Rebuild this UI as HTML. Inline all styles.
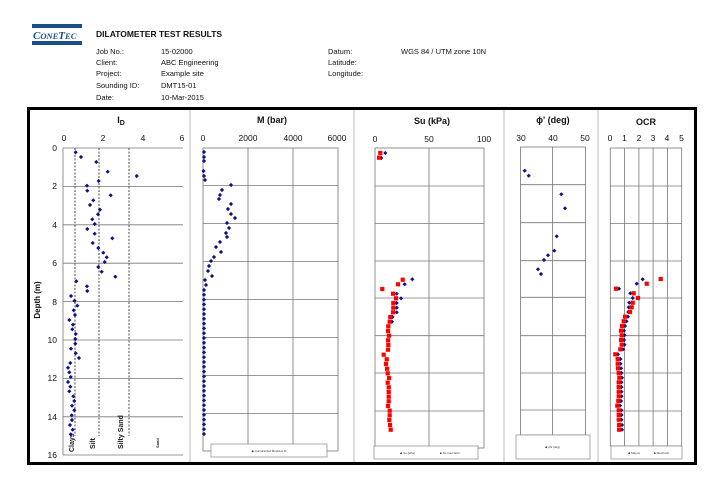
<!DOCTYPE html>
<html><head><meta charset="utf-8"><style>
body{margin:0;background:#fff;}
svg{display:block;font-family:"Liberation Sans",sans-serif;}
.h{font-size:7.5px;fill:#111;}
.t{font-size:8.5px;fill:#111;}
.g{stroke:#777;stroke-width:0.8;fill:none;}
.dash{stroke:#222;stroke-width:0.8;stroke-dasharray:2,1.5;}
</style></head><body>
<svg width="724" height="488" viewBox="0 0 724 488" xmlns="http://www.w3.org/2000/svg">
<defs>
<polygon id="d" points="0,-2.1 2.1,0 0,2.1 -2.1,0" fill="#10108a"/>
<rect id="s" x="-2.1" y="-2.1" width="4.2" height="4.2" fill="#f00"/>
</defs>
<!-- header -->
<rect x="32" y="24" width="50" height="4" fill="#1b4f8a"/>
<rect x="32" y="41" width="50" height="4" fill="#1b4f8a"/>
<text x="33" y="39" style="font-family:'Liberation Serif',serif;font-size:11px;font-style:italic;fill:#1b4f8a;font-weight:bold">C<tspan font-size="8.5">ONE</tspan>T<tspan font-size="8.5">EC</tspan></text>
<text x="96" y="37" style="font-size:8.5px;font-weight:bold;fill:#111">DILATOMETER TEST RESULTS</text>
<g class="h">
<text x="96" y="54">Job No.:</text><text x="161" y="54">15-02000</text>
<text x="96" y="65">Client:</text><text x="161" y="65">ABC Engineering</text>
<text x="96" y="76">Project:</text><text x="161" y="76">Example site</text>
<text x="96" y="88">Sounding ID:</text><text x="161" y="88">DMT15-01</text>
<text x="96" y="100">Date:</text><text x="161" y="100">10-Mar-2015</text>
<text x="328" y="54">Datum:</text><text x="401" y="54">WGS 84 / UTM zone 10N</text>
<text x="328" y="65">Latitude:</text>
<text x="328" y="76">Longitude:</text>
</g>
<!-- frame -->
<rect x="28.5" y="108.5" width="667" height="355" fill="none" stroke="#000" stroke-width="3"/>
<g stroke="#bbb" stroke-width="1">
<line x1="190" y1="110" x2="190" y2="462"/><line x1="354" y1="110" x2="354" y2="462"/>
<line x1="504" y1="110" x2="504" y2="462"/><line x1="598" y1="110" x2="598" y2="462"/>
</g>
<!-- titles -->
<g style="font-size:9px;font-weight:bold;fill:#111" text-anchor="middle">
<text x="121" y="123">I<tspan font-size="7" dy="2">D</tspan></text>
<text x="272" y="123">M (bar)</text>
<text x="432" y="124">Su (kPa)</text>
<text x="553" y="123">ϕ' (deg)</text>
<text x="646" y="125">OCR</text>
</g>
<!-- Ic panel -->
<g class="t" text-anchor="middle">
<text x="64" y="141">0</text><text x="103" y="141">2</text><text x="143" y="141">4</text><text x="182" y="141">6</text>
</g>
<g class="t" text-anchor="end">
<text x="57" y="151">0</text><text x="57" y="189">2</text><text x="57" y="228">4</text><text x="57" y="266">6</text><text x="57" y="305">8</text><text x="57" y="343">10</text><text x="57" y="381">12</text><text x="57" y="420">14</text><text x="57" y="458">16</text>
</g>
<text transform="translate(40,300) rotate(-90)" text-anchor="middle" style="font-size:8px;font-weight:bold;fill:#111">Depth (m)</text>
<g class="g">
<line x1="63" y1="148" x2="183" y2="148"/>
<line x1="63" y1="186.4" x2="183" y2="186.4"/><line x1="63" y1="224.8" x2="183" y2="224.8"/><line x1="63" y1="263.2" x2="183" y2="263.2"/><line x1="63" y1="301.6" x2="183" y2="301.6"/><line x1="63" y1="340" x2="183" y2="340"/><line x1="63" y1="378.4" x2="183" y2="378.4"/><line x1="63" y1="416.8" x2="183" y2="416.8"/><line x1="63" y1="455" x2="183" y2="455"/>
<line x1="63" y1="148" x2="63" y2="455"/>
</g>
<g class="dash"><line x1="75" y1="148" x2="75" y2="436"/><line x1="99" y1="148" x2="99" y2="436"/><line x1="129" y1="148" x2="129" y2="436"/></g>
<g transform="rotate(-90)" style="font-size:7px;font-weight:bold;fill:#222">
<text x="-452" y="74">Clays</text><text x="-449" y="95">Silt</text><text x="-449" y="123">Silty Sand</text><text x="-448" y="159" style="font-size:4px">Sand</text>
</g>
<g>
<use href="#d" x="75.7" y="152.3"/><use href="#d" x="81" y="157"/><use href="#d" x="96.3" y="162"/><use href="#d" x="107.7" y="171.7"/><use href="#d" x="136.7" y="176"/><use href="#d" x="98.7" y="181"/><use href="#d" x="87" y="185.7"/><use href="#d" x="87.3" y="190.7"/><use href="#d" x="110.7" y="195.3"/><use href="#d" x="93.3" y="200.3"/><use href="#d" x="90" y="205"/><use href="#d" x="100" y="209.7"/><use href="#d" x="98" y="214.3"/><use href="#d" x="92.3" y="219.3"/><use href="#d" x="94.7" y="224"/><use href="#d" x="87.3" y="229"/><use href="#d" x="94.7" y="233.7"/><use href="#d" x="112.3" y="238.3"/><use href="#d" x="92.7" y="243"/><use href="#d" x="98.3" y="248"/><use href="#d" x="103.3" y="252.7"/><use href="#d" x="106.7" y="257.3"/><use href="#d" x="104.7" y="262"/><use href="#d" x="98.3" y="267"/><use href="#d" x="101.7" y="271.7"/><use href="#d" x="115.3" y="276.7"/><use href="#d" x="76.3" y="281.3"/><use href="#d" x="87" y="286.3"/><use href="#d" x="87.3" y="291"/><use href="#d" x="71" y="296"/><use href="#d" x="74.5" y="300.8"/><use href="#d" x="77.3" y="305.7"/><use href="#d" x="73.7" y="310.3"/><use href="#d" x="75" y="315"/><use href="#d" x="69.3" y="320"/><use href="#d" x="73" y="324.7"/><use href="#d" x="72.3" y="329.3"/><use href="#d" x="75.7" y="334"/><use href="#d" x="75.3" y="339"/><use href="#d" x="75.3" y="343.7"/><use href="#d" x="71" y="348.7"/><use href="#d" x="75.7" y="353.3"/><use href="#d" x="79" y="358"/><use href="#d" x="70.3" y="363"/><use href="#d" x="68" y="367.7"/><use href="#d" x="69.3" y="372.3"/><use href="#d" x="70.7" y="377"/><use href="#d" x="68" y="382"/><use href="#d" x="70.3" y="386.7"/><use href="#d" x="69.3" y="391.3"/><use href="#d" x="73.3" y="396.3"/><use href="#d" x="74.3" y="401"/><use href="#d" x="72" y="405.7"/><use href="#d" x="74.3" y="410.3"/><use href="#d" x="71.7" y="415.3"/><use href="#d" x="72" y="420"/><use href="#d" x="70" y="425"/><use href="#d" x="72.7" y="429.7"/><use href="#d" x="70.7" y="434.3"/>
</g>
<!-- M panel -->
<g class="t" text-anchor="middle">
<text x="203" y="141">0</text><text x="248" y="141">2000</text><text x="293" y="141">4000</text><text x="337" y="141">6000</text>
</g>
<g class="g">
<rect x="203" y="148" width="135" height="303"/>
<line x1="248" y1="148" x2="248" y2="451"/><line x1="293" y1="148" x2="293" y2="451"/>
<line x1="203" y1="185.5" x2="338" y2="185.5"/><line x1="203" y1="223.5" x2="338" y2="223.5"/><line x1="203" y1="261.5" x2="338" y2="261.5"/><line x1="203" y1="299.5" x2="338" y2="299.5"/><line x1="203" y1="337.5" x2="338" y2="337.5"/><line x1="203" y1="375.5" x2="338" y2="375.5"/><line x1="203" y1="413.5" x2="338" y2="413.5"/>
</g>
<rect x="211" y="444" width="116" height="13" fill="#fff" stroke="#888" stroke-width="0.7"/>
<text x="269" y="452" text-anchor="middle" style="font-size:3px;fill:#333">◆ Constrained Modulus M</text>
<g>
<use href="#d" x="204" y="152"/><use href="#d" x="204" y="157"/><use href="#d" x="204" y="161"/><use href="#d" x="203.5" y="171"/><use href="#d" x="204" y="176"/><use href="#d" x="205" y="180"/><use href="#d" x="231" y="185"/><use href="#d" x="222" y="190"/><use href="#d" x="220" y="195"/><use href="#d" x="219" y="199"/><use href="#d" x="231" y="204"/><use href="#d" x="228" y="209"/><use href="#d" x="231" y="214"/><use href="#d" x="235" y="218"/><use href="#d" x="227" y="223"/><use href="#d" x="229" y="228"/><use href="#d" x="226" y="233"/><use href="#d" x="227" y="237"/><use href="#d" x="220" y="242"/><use href="#d" x="216" y="247"/><use href="#d" x="221" y="252"/><use href="#d" x="214" y="257"/><use href="#d" x="211" y="261"/><use href="#d" x="209" y="266"/><use href="#d" x="208" y="271"/><use href="#d" x="212" y="276"/><use href="#d" x="205" y="280"/><use href="#d" x="206" y="285"/>
<use href="#d" x="204" y="290"/><use href="#d" x="204" y="294.8"/><use href="#d" x="204" y="299.6"/><use href="#d" x="204" y="304.4"/><use href="#d" x="204" y="309.2"/><use href="#d" x="204" y="314"/><use href="#d" x="204" y="318.8"/><use href="#d" x="204" y="323.6"/><use href="#d" x="204" y="328.4"/><use href="#d" x="204" y="333.2"/><use href="#d" x="204" y="338"/><use href="#d" x="204" y="342.8"/><use href="#d" x="204" y="347.6"/><use href="#d" x="204" y="352.4"/><use href="#d" x="204" y="357.2"/><use href="#d" x="204" y="362"/><use href="#d" x="204" y="366.8"/><use href="#d" x="204" y="371.6"/><use href="#d" x="204" y="376.4"/><use href="#d" x="204" y="381.2"/><use href="#d" x="204" y="386"/><use href="#d" x="204" y="390.8"/><use href="#d" x="204" y="395.6"/><use href="#d" x="204" y="400.4"/><use href="#d" x="204" y="405.2"/><use href="#d" x="204" y="410"/><use href="#d" x="204" y="414.8"/><use href="#d" x="204" y="419.6"/><use href="#d" x="204" y="424.4"/><use href="#d" x="204" y="429.2"/><use href="#d" x="204" y="434"/>
</g>
<!-- Su panel -->
<g class="t" text-anchor="middle">
<text x="375" y="142">0</text><text x="429" y="142">50</text><text x="484" y="142">100</text>
</g>
<g class="g">
<rect x="375" y="148" width="109" height="300"/>
<line x1="429" y1="148" x2="429" y2="448"/>
<line x1="375" y1="186" x2="484" y2="186"/><line x1="375" y1="223.5" x2="484" y2="223.5"/><line x1="375" y1="261" x2="484" y2="261"/><line x1="375" y1="298" x2="484" y2="298"/><line x1="375" y1="335.7" x2="484" y2="335.7"/><line x1="375" y1="373" x2="484" y2="373"/><line x1="375" y1="411" x2="484" y2="411"/>
</g>
<rect x="374" y="446" width="104" height="13" fill="#fff" stroke="#888" stroke-width="0.7"/>
<text x="400" y="454" style="font-size:3px;fill:#333">◆ Su (kPa)</text><text x="440" y="454" style="font-size:3px;fill:#333">■ Su marchetti</text>
<g>
<use href="#d" x="385.3" y="153"/><use href="#d" x="381.3" y="158"/>
<use href="#d" x="412.3" y="279.3"/><use href="#d" x="404.7" y="284.3"/><use href="#d" x="396.7" y="293.7"/><use href="#d" x="401" y="298.3"/><use href="#d" x="396.7" y="303"/><use href="#d" x="396.7" y="307.7"/><use href="#d" x="396.7" y="312.3"/><use href="#d" x="392.5" y="317"/><use href="#d" x="392" y="321.7"/>
<use href="#s" x="380.3" y="153"/><use href="#s" x="379" y="157.7"/>
<use href="#s" x="402.7" y="279.7"/><use href="#s" x="398" y="284.3"/><use href="#s" x="382.3" y="289"/><use href="#s" x="393" y="293.7"/><use href="#s" x="396" y="298.3"/><use href="#s" x="393.3" y="303"/><use href="#s" x="393.3" y="307.7"/><use href="#s" x="393" y="312.3"/><use href="#s" x="390.3" y="317"/><use href="#s" x="389.7" y="321.7"/><use href="#s" x="388.3" y="326.3"/><use href="#s" x="388" y="331"/><use href="#s" x="389" y="335.7"/><use href="#s" x="388" y="340.3"/><use href="#s" x="388.3" y="345"/><use href="#s" x="388" y="349.7"/><use href="#s" x="383.7" y="354.7"/><use href="#s" x="386.7" y="359.3"/><use href="#s" x="386" y="364"/><use href="#s" x="387" y="368.7"/><use href="#s" x="387.7" y="373.3"/><use href="#s" x="389" y="378"/><use href="#s" x="387.7" y="382.7"/><use href="#s" x="388.7" y="387.3"/><use href="#s" x="388.7" y="392"/><use href="#s" x="388.7" y="396.7"/><use href="#s" x="388.7" y="401.3"/><use href="#s" x="388" y="406"/><use href="#s" x="389.7" y="410.7"/><use href="#s" x="389.7" y="415.3"/><use href="#s" x="389.3" y="420"/><use href="#s" x="390" y="425"/><use href="#s" x="390.7" y="429.7"/>
</g>
<!-- phi panel -->
<g class="t" text-anchor="middle">
<text x="521" y="141">30</text><text x="553" y="141">40</text><text x="585" y="141">50</text>
</g>
<g class="g">
<rect x="520.5" y="147" width="65" height="288"/>
<line x1="552.5" y1="147" x2="552.5" y2="435"/>
<line x1="520.5" y1="184.7" x2="585.5" y2="184.7"/><line x1="520.5" y1="222.7" x2="585.5" y2="222.7"/><line x1="520.5" y1="260.7" x2="585.5" y2="260.7"/><line x1="520.5" y1="297.3" x2="585.5" y2="297.3"/><line x1="520.5" y1="335.7" x2="585.5" y2="335.7"/><line x1="520.5" y1="373" x2="585.5" y2="373"/><line x1="520.5" y1="410" x2="585.5" y2="410"/>
</g>
<rect x="516" y="435" width="74" height="24" fill="#fff" stroke="#888" stroke-width="0.7"/>
<text x="545" y="448" style="font-size:3px;fill:#333">◆ phi (deg)</text>
<g>
<use href="#d" x="524.7" y="170.7"/><use href="#d" x="528.7" y="175.7"/><use href="#d" x="561.3" y="194.3"/><use href="#d" x="565" y="208.3"/><use href="#d" x="556.7" y="236.3"/><use href="#d" x="554.3" y="250.7"/><use href="#d" x="548" y="255.3"/><use href="#d" x="544" y="260"/><use href="#d" x="538" y="269.3"/><use href="#d" x="541" y="274"/>
</g>
<!-- OCR panel -->
<g class="t" text-anchor="middle">
<text x="610" y="141">0</text><text x="624.5" y="141">1</text><text x="639" y="141">2</text><text x="653" y="141">3</text><text x="667" y="141">4</text><text x="681.5" y="141">5</text>
</g>
<g class="g">
<rect x="610.3" y="148" width="71.4" height="298"/>
<line x1="624.6" y1="148" x2="624.6" y2="446"/><line x1="638.9" y1="148" x2="638.9" y2="446"/><line x1="653.1" y1="148" x2="653.1" y2="446"/><line x1="667.4" y1="148" x2="667.4" y2="446"/>
<line x1="610.3" y1="186" x2="681.7" y2="186"/><line x1="610.3" y1="223.5" x2="681.7" y2="223.5"/><line x1="610.3" y1="261" x2="681.7" y2="261"/><line x1="610.3" y1="298" x2="681.7" y2="298"/><line x1="610.3" y1="335.7" x2="681.7" y2="335.7"/><line x1="610.3" y1="373" x2="681.7" y2="373"/><line x1="610.3" y1="411" x2="681.7" y2="411"/>
</g>
<rect x="611" y="446" width="71" height="13" fill="#fff" stroke="#888" stroke-width="0.7"/>
<text x="628" y="454" style="font-size:3px;fill:#333">◆ Mayne</text><text x="654" y="454" style="font-size:3px;fill:#333">■ Marchetti</text>
<g>
<use href="#d" x="642.7" y="279.3"/><use href="#d" x="636.7" y="283.7"/><use href="#d" x="619" y="288.7"/><use href="#d" x="630.3" y="293.3"/><use href="#d" x="632.7" y="298"/><use href="#d" x="629.3" y="302.7"/><use href="#d" x="628.7" y="307.3"/><use href="#d" x="628.3" y="312"/><use href="#d" x="628" y="316.7"/><use href="#d" x="626.5" y="321.3"/><use href="#d" x="625" y="326"/><use href="#d" x="624" y="330.7"/><use href="#d" x="624.5" y="335.3"/><use href="#d" x="624" y="340"/><use href="#d" x="624.5" y="344.7"/><use href="#d" x="623" y="349.3"/><use href="#d" x="618" y="354.3"/><use href="#d" x="620.5" y="359"/><use href="#d" x="620.5" y="363.7"/><use href="#d" x="621" y="368.3"/><use href="#d" x="621.5" y="373"/><use href="#d" x="622" y="377.7"/><use href="#d" x="621.5" y="382.3"/><use href="#d" x="621.5" y="387"/><use href="#d" x="621.5" y="391.7"/><use href="#d" x="621.5" y="396.3"/><use href="#d" x="621" y="401"/><use href="#d" x="620" y="405.7"/><use href="#d" x="621.5" y="410.3"/><use href="#d" x="621.5" y="415"/><use href="#d" x="621.5" y="419.7"/><use href="#d" x="622" y="425"/><use href="#d" x="622" y="429.7"/>
<use href="#s" x="660.7" y="279"/><use href="#s" x="646.7" y="283.7"/><use href="#s" x="616" y="288.7"/><use href="#s" x="633.7" y="293.3"/><use href="#s" x="638" y="298"/><use href="#s" x="632.7" y="302.7"/><use href="#s" x="631.7" y="307.3"/><use href="#s" x="630" y="312"/><use href="#s" x="625" y="316.7"/><use href="#s" x="623.7" y="321.3"/><use href="#s" x="622" y="326"/><use href="#s" x="621" y="330.7"/><use href="#s" x="621.7" y="335.3"/><use href="#s" x="621" y="340"/><use href="#s" x="621.7" y="344.7"/><use href="#s" x="620.3" y="349.3"/><use href="#s" x="615.3" y="354.3"/><use href="#s" x="617.7" y="359"/><use href="#s" x="617.7" y="363.7"/><use href="#s" x="618" y="368.3"/><use href="#s" x="618.7" y="373"/><use href="#s" x="619.3" y="377.7"/><use href="#s" x="618.7" y="382.3"/><use href="#s" x="618.7" y="387"/><use href="#s" x="618.7" y="391.7"/><use href="#s" x="618.7" y="396.3"/><use href="#s" x="618.3" y="401"/><use href="#s" x="617.3" y="405.7"/><use href="#s" x="618.7" y="410.3"/><use href="#s" x="618.7" y="415"/><use href="#s" x="618.7" y="419.7"/><use href="#s" x="619" y="425"/><use href="#s" x="619" y="429.7"/>
</g>
</svg>
</body></html>
